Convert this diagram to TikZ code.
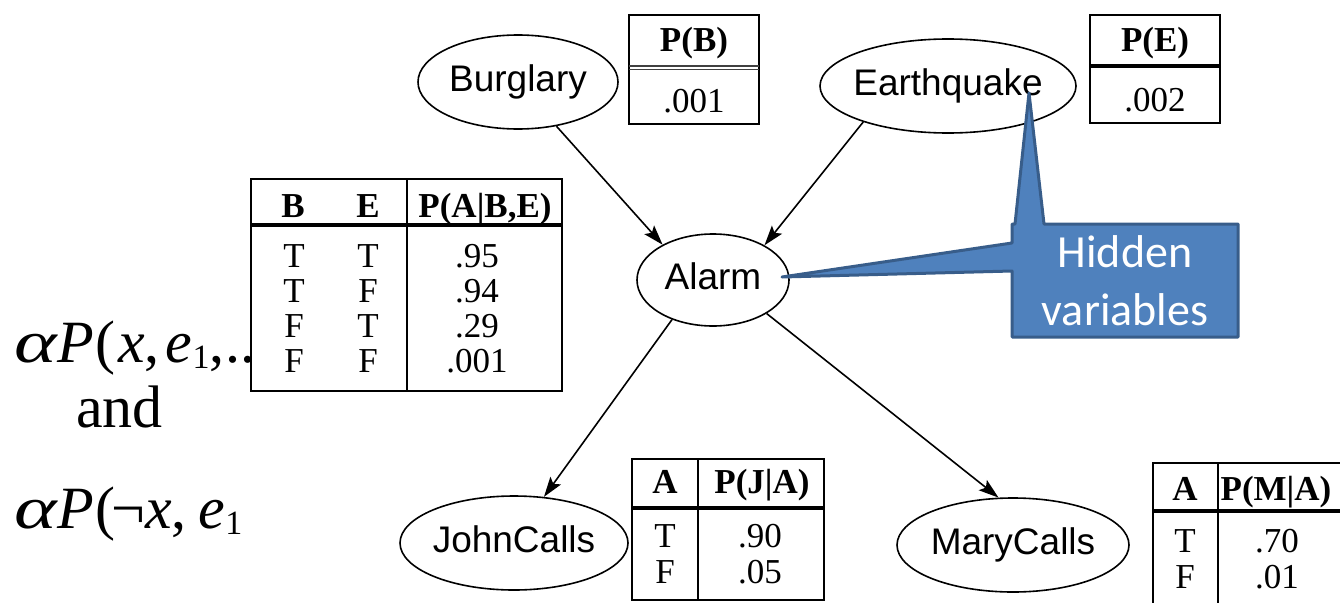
\documentclass[tikz,border=0pt]{standalone}
\usepackage{fontspec}
\usepackage{graphicx}
\setmainfont{Liberation Serif}
\newfontfamily\arialf{Liberation Sans}
\newfontfamily\calibf{Carlito}
\usetikzlibrary{shapes.geometric,arrows.meta}
\definecolor{callfill}{HTML}{4F81BD}
\definecolor{callline}{HTML}{385D8A}
\newcommand\subone{\raisebox{-6pt}{\fontsize{34}{36}\selectfont 1}}
\newcommand\bigalpha{\textit{\scalebox{1.35}[1]{α}}}
\begin{document}
\begin{tikzpicture}[x=1pt,y=-1pt,
  var/.style={ellipse, draw, line width=1.6pt, inner ysep=0pt, inner xsep=-10pt,
    font=\arialf\fontsize{37}{40}\selectfont, text height=26pt, text depth=8pt},
  edge/.style={line width=1.6pt, -{Stealth[length=20pt,width=13pt,inset=4pt]}},
  tbl/.style={draw, line width=1.8pt, fill=white},
  rule/.style={line width=1.8pt},
  thickrule/.style={line width=3.5pt},
  cell/.style={anchor=base, inner sep=0pt, font=\fontsize{35}{37}\selectfont},
  hcell/.style={anchor=base, inner sep=0pt, font=\bfseries\fontsize{35}{37}\selectfont},
  formula/.style={anchor=base west, inner sep=0pt, font=\fontsize{60}{64}\selectfont},
  callout/.style={fill=callfill, draw=callline, line width=3pt, line join=round},
  calltext/.style={anchor=base, inner sep=0pt, text=white, font=\calibf\fontsize{46}{50}\selectfont}
]
\useasboundingbox (0,0) rectangle (1340,602);
\clip (0,0) rectangle (1340,602);

% formula on the left
\node[formula] (f1) at (14,362) {\bigalpha\kern1pt\textit{P}\kern1pt(\kern3pt\textit{x},\kern6pt\textit{e}\subone,\kern1pt..};
\node[formula] (f2) at (76,427) {and};
\node[formula] (f3) at (14,528) {\bigalpha\kern1pt\textit{P}\kern1pt(\kern-4pt¬\textit{x},\kern12pt\textit{e}\subone};

% nodes
\node[var, minimum width=200pt, minimum height=94pt] (b) at (518,82) {Burglary};
\node[var, minimum width=256pt, minimum height=94pt] (e) at (948,86) {Earthquake};
\node[var, minimum width=152pt, minimum height=92pt] (a) at (713,280) {Alarm};
\node[var, minimum width=228pt, minimum height=94pt] (j) at (514,543) {JohnCalls};
\node[var, minimum width=232pt, minimum height=94pt] (m) at (1013,545) {MaryCalls};

% edges
\draw[edge] (b.-49) -- (a.145);
\draw[edge] (e.203) -- (a.34);
\draw[edge] (a.224) -- (j.57);
\draw[edge] (a.328) -- (m.107);

% P(B)
\draw[tbl] (629,15) rectangle (759,124);
\draw[line width=1.2pt, black!75] (629,66) -- (759,66) (629,69.5) -- (759,69.5);
\node[hcell] (pbh) at (694,52) {P(B)};
\node[cell] (pbv) at (694,112) {.001};

% P(E)
\draw[tbl] (1090,15) rectangle (1220,123);
\draw[thickrule] (1090,66) -- (1220,66);
\node[hcell] (peh) at (1155,52) {P(E)};
\node[cell] (pev) at (1155,111) {.002};

% P(A|B,E)
\draw[tbl] (251,179) rectangle (562,391);
\draw[thickrule] (251,225) -- (562,225);
\draw[rule] (407,179) -- (407,391);
\node[hcell] (ah1) at (293,217) {B};
\node[hcell] (ah2) at (368,217) {E};
\node[hcell] (ah3) at (485,217) {P(A|B,E)};
\node[cell] (a11) at (294,267) {T}; \node[cell] (a12) at (368,267) {T}; \node[cell] (a13) at (477,267) {.95};
\node[cell] (a21) at (294,302) {T}; \node[cell] (a22) at (368,302) {F}; \node[cell] (a23) at (477,302) {.94};
\node[cell] (a31) at (294,337) {F}; \node[cell] (a32) at (368,337) {T}; \node[cell] (a33) at (477,337) {.29};
\node[cell] (a41) at (294,372) {F}; \node[cell] (a42) at (368,372) {F}; \node[cell] (a43) at (477,372) {.001};

% P(J|A)
\draw[tbl] (632,459) rectangle (824,600);
\draw[thickrule] (632,508) -- (824,508);
\draw[rule] (698,459) -- (698,600);
\node[hcell] (jh1) at (665,493) {A};
\node[hcell] (jh2) at (762,493) {P(J|A)};
\node[cell] (j11) at (665,547) {T}; \node[cell] (j12) at (760,547) {.90};
\node[cell] (j21) at (665,583) {F}; \node[cell] (j22) at (760,583) {.05};

% P(M|A)
\draw[tbl] (1153,463) rectangle (1370,640);
\draw[thickrule] (1153,511) -- (1370,511);
\draw[rule] (1218,463) -- (1218,640);
\node[hcell] (mh1) at (1185,500) {A};
\node[hcell] (mh2) at (1276,500) {P(M|A)};
\node[cell] (m11) at (1185,552) {T}; \node[cell] (m12) at (1277,552) {.70};
\node[cell] (m21) at (1185,588) {F}; \node[cell] (m22) at (1277,588) {.01};

% callout
\coordinate (tipE) at (1029,93);
\coordinate (tipA) at (782,277);
\draw[callout] (1012,224) -- (1015,224) -- (tipE) -- (1044,224) -- (1238,224)
  -- (1238,337) -- (1012,337) -- (1012,271) -- (tipA) -- (1012,243) -- cycle;
\node[calltext] (h1) at (1125,267) {Hidden};
\node[calltext] (h2) at (1125,325) {variables};
\end{tikzpicture}
\end{document}
